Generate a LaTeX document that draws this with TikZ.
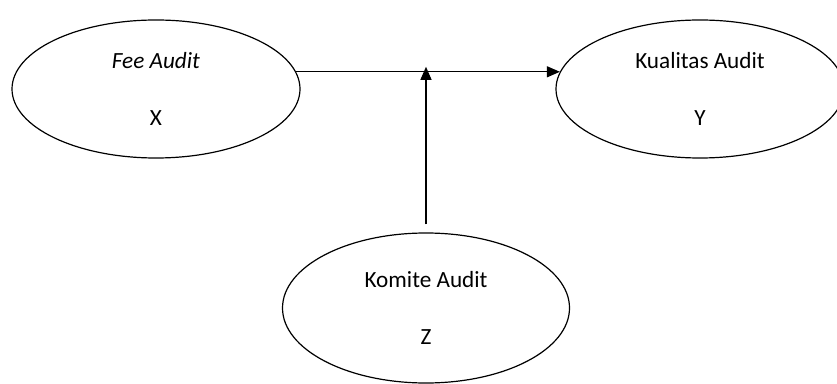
\documentclass[tikz,border=0pt]{standalone}
\usepackage{fontspec}
\setmainfont{Carlito}
\usetikzlibrary{shapes.geometric,arrows.meta}

\begin{document}
\begin{tikzpicture}[x=1pt,y=1pt,
    varbox/.style={ellipse, draw, line width=1.2pt, inner sep=0pt,
                   minimum width=288pt, minimum height=138pt, align=center,
                   font={\fontsize{23.2}{57}\selectfont}},
    link/.style={line width=1.2pt, -{Triangle[length=13pt,width=11pt]}}]
		    \useasboundingbox (0,0) rectangle (837,383);

					\node[varbox] (fee) at (156,294) {\textit{Fee Audit}\\X};
					\node[varbox] (kualitas) at (700,294) {Kualitas Audit\\Y};
					\node[varbox, minimum width=287pt, minimum height=150pt] (komite) at (426,75) {Komite Audit\\Z};

					\coordinate (meet) at (komite.north |- fee.7);

			    \draw[link] (fee.7) -- (kualitas.173); % X ke Y
					\draw[link, shorten <=8pt, shorten >=-5pt] (komite.north) -- (meet); % Z ke garis

		  \end{tikzpicture}
\end{document}
